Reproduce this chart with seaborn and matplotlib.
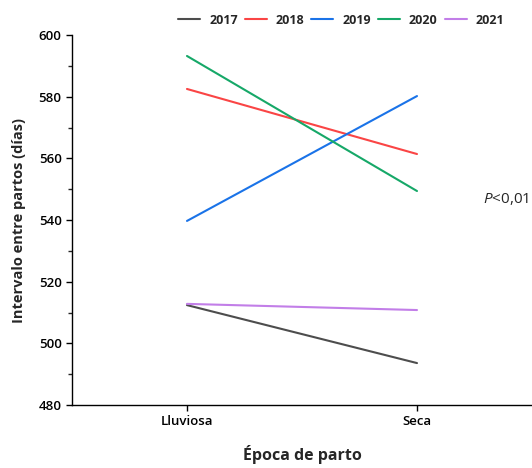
import numpy as np
import pandas as pd
import matplotlib
matplotlib.use("Agg")
import matplotlib.pyplot as plt
import seaborn as sns
from matplotlib.ticker import MultipleLocator

# data
epocas = ["Lluviosa", "Seca"]
years = ["2017", "2018", "2019", "2020", "2021"]
iep_2017 = [512.4, 493.6]
iep_2018 = [582.5, 561.4]
iep_2019 = [539.7, 580.2]
iep_2020 = [593.2, 549.4]
iep_2021 = [512.8, 510.8]
colors = ["#4d4d4d", "#fa4545", "#1a73e8", "#16a868", "#c27ee8"]

series = [iep_2017, iep_2018, iep_2019, iep_2020, iep_2021]
df = pd.DataFrame({
    "Epoca": epocas * len(years),
    "Año": [y for y in years for _ in epocas],
    "IEP": [v for s in series for v in s],
})

sns.set_theme(style="ticks")
plt.rcParams["font.family"] = ["Open Sans", "DejaVu Sans"]
plt.rcParams["mathtext.fontset"] = "custom"
plt.rcParams["mathtext.it"] = "Open Sans:italic"
plt.rcParams["mathtext.rm"] = "Open Sans"

fig = plt.figure(figsize=(5.32, 4.68), dpi=100)
ax = fig.add_axes([0.1353, 0.1346, 0.8647, 0.7906])

sns.lineplot(data=df, x="Epoca", y="IEP", hue="Año", palette=colors,
             linewidth=1.5, ax=ax, sort=False)

ax.set_xlim(-0.5, 1.5)
ax.set_ylim(480, 600)
ax.yaxis.set_major_locator(MultipleLocator(20))
ax.yaxis.set_minor_locator(MultipleLocator(10))
ax.tick_params(axis="both", which="major", length=4, width=1, labelsize=9.5,
               colors="black")
ax.tick_params(axis="y", which="minor", length=3, width=1)
for lab in ax.get_xticklabels() + ax.get_yticklabels():
    lab.set_fontweight("semibold")

sns.despine(ax=ax)
for sp in ["left", "bottom"]:
    ax.spines[sp].set_color("black")
    ax.spines[sp].set_linewidth(1)

ax.set_xlabel("Época de parto", fontsize=11.5, fontweight="bold", labelpad=12)
ax.set_ylabel("Intervalo entre partos (días)", fontsize=10.5, fontweight="bold",
              labelpad=9)

fig.text(483 / 532, 1 - 199 / 468, "$P$<0,01", fontsize=11,
         ha="left", va="center")

leg = ax.legend(loc="center", bbox_to_anchor=(0.585, 1.04), ncol=5,
                frameon=False, fontsize=9, handlelength=1.76,
                columnspacing=0.56, handletextpad=0.72, title=None)
for t in leg.get_texts():
    t.set_fontweight("bold")
for line in leg.get_lines():
    line.set_linewidth(1.5)

fig.savefig("out.png", dpi=100)
